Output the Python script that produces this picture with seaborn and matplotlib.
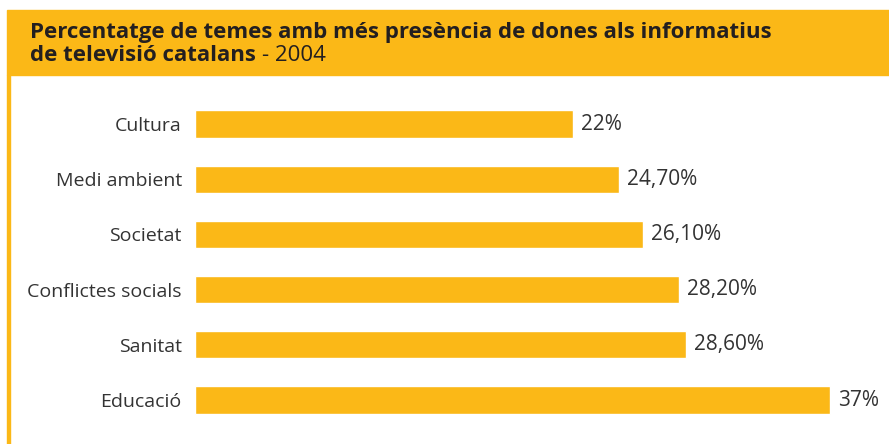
'''
Percentatge de temes amb més presència de dones als informatius (barres horitzontals)
'''

import matplotlib.pyplot as plt
import seaborn as sns
import pandas as pd
from matplotlib.patches import Rectangle

temes = ['Cultura', 'Medi ambient', 'Societat', 'Conflictes socials', 'Sanitat', 'Educació']
percentatges = [22, 24.7, 26.1, 28.2, 28.6, 37]
etiquetes = ['22%', '24,70%', '26,10%', '28,20%', '28,60%', '37%']

groc = '#FBB817'
text_fosc = '#231F20'
text_gris = '#333333'

sns.set_style('white')
plt.rcParams['font.family'] = ['Open Sans', 'DejaVu Sans']

df = pd.DataFrame({'tema': temes, 'pct': percentatges})

W, H = 889, 444
fig = plt.figure(figsize=(W / 100, H / 100), dpi=100)

# eixos: barres des de x=195px, 37% acaba a x~830px
ax = fig.add_axes([195 / W, 1 - 427.6 / H, 1 - 195 / W, 331.2 / H])
sns.barplot(data=df, x='pct', y='tema', color=groc, width=0.49,
            saturation=1, ax=ax)
ax.set_xlim(0, (W - 195) / ((830 - 195) / 37))
ax.set_ylim(5.5, -0.5)
sns.despine(ax=ax, left=True, bottom=True)
ax.set_xticks([])
ax.set_xlabel('')
ax.set_ylabel('')
ax.tick_params(axis='y', length=0, pad=9.5, labelsize=14, labelcolor=text_gris)
for t in ax.get_yticklabels():
    t.set_va('center_baseline')
ax.bar_label(ax.containers[0], labels=etiquetes, padding=6,
             fontsize=15, color=text_gris)

# banda del títol i línia vertical esquerra
fig.patches.append(Rectangle((7 / W, 1 - 75 / H), 1, 65 / H,
                             transform=fig.transFigure, color=groc, zorder=0))
fig.patches.append(Rectangle((7 / W, 0), 3 / W, 1 - 75 / H,
                             transform=fig.transFigure, color=groc, zorder=0))

fig.text(30 / W, 1 - 38 / H,
         'Percentatge de temes amb més presència de dones als informatius',
         fontsize=16, fontweight='bold', color=text_fosc, va='baseline')
t2 = fig.text(30 / W, 1 - 61 / H, 'de televisió catalans',
              fontsize=16, fontweight='bold', color=text_fosc, va='baseline')
bb = t2.get_window_extent(fig.canvas.get_renderer())
fig.text((bb.x1 + 6) / W, 1 - 61 / H, '- 2004',
         fontsize=16, color=text_fosc, va='baseline')

fig.savefig('out.png', dpi=100)
